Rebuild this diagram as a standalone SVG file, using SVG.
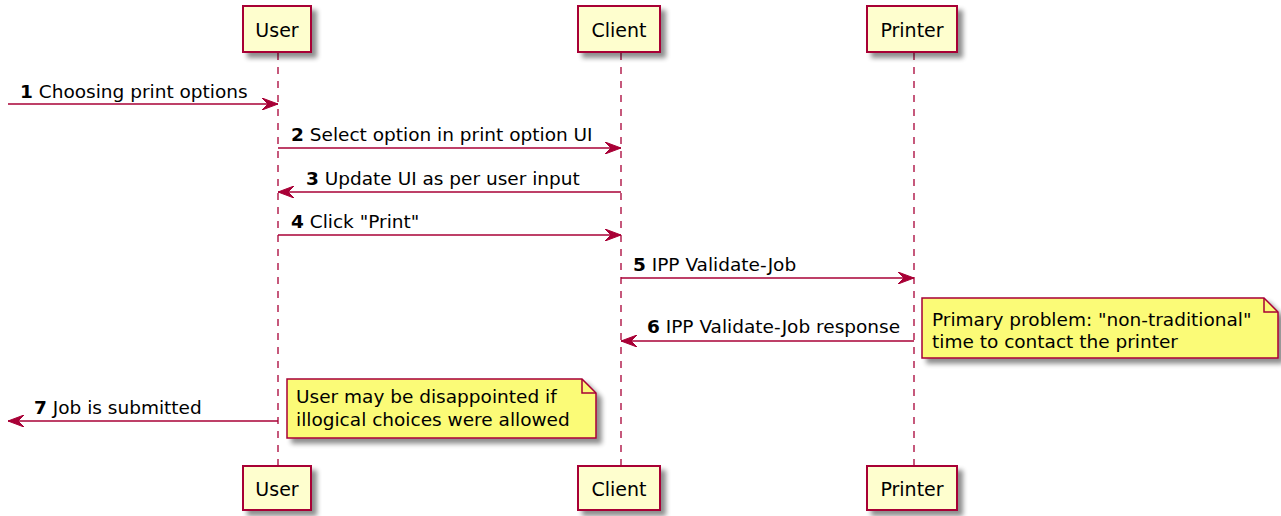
<svg xmlns="http://www.w3.org/2000/svg" width="1281" height="516" viewBox="0 0 1281 516">
<defs>
  <filter id="sh" x="-20%" y="-20%" width="150%" height="160%">
    <feGaussianBlur in="SourceAlpha" stdDeviation="2.5"/>
    <feOffset dx="5" dy="5" result="b"/>
    <feComponentTransfer><feFuncA type="linear" slope="0.45"/></feComponentTransfer>
    <feMerge><feMergeNode/><feMergeNode in="SourceGraphic"/></feMerge>
  </filter>
  <marker id="ah" viewBox="0 0 16 12" refX="16" refY="6" markerWidth="16" markerHeight="12" markerUnits="userSpaceOnUse" orient="auto">
    <path d="M0,0 L16,6 L0,12 L6,6 Z" fill="#A80036" stroke="#A80036" stroke-width="1"/>
  </marker>
</defs>
<style>
  .part { fill: #FEFECE; stroke: #A80036; stroke-width: 2; }
  .ptxt { font-family: "DejaVu Sans", sans-serif; font-size: 19px; fill: #000; text-anchor: middle; }
  .life { stroke: #A80036; stroke-width: 1.3; stroke-dasharray: 7 7; fill: none; }
  .msg { stroke: #A80036; stroke-width: 1.5; fill: none; marker-end: url(#ah); }
  .mtxt { font-family: "DejaVu Sans", sans-serif; font-size: 18.5px; fill: #000; }
  .num { font-weight: bold; }
  .note { fill: #FBFB77; stroke: #A80036; stroke-width: 1.5; }
  .ntxt { font-family: "DejaVu Sans", sans-serif; font-size: 18.5px; fill: #000; }
</style>
<g id="lifelines">
  <line class="life" x1="278" y1="53" x2="278" y2="466"/>
  <line class="life" x1="621" y1="53" x2="621" y2="466"/>
  <line class="life" x1="914" y1="53" x2="914" y2="466"/>
</g>
<g id="user">
  <rect class="part" x="243" y="6" width="68" height="46" filter="url(#sh)"/>
  <text class="ptxt" x="277" y="37">User</text>
  <rect class="part" x="243" y="466" width="68" height="44" filter="url(#sh)"/>
  <text class="ptxt" x="277" y="496">User</text>
</g>
<g id="client">
  <rect class="part" x="578" y="6" width="82" height="46" filter="url(#sh)"/>
  <text class="ptxt" x="619" y="37">Client</text>
  <rect class="part" x="578" y="466" width="82" height="44" filter="url(#sh)"/>
  <text class="ptxt" x="619" y="496">Client</text>
</g>
<g id="printer">
  <rect class="part" x="867" y="6" width="90" height="46" filter="url(#sh)"/>
  <text class="ptxt" x="912" y="37">Printer</text>
  <rect class="part" x="867" y="466" width="90" height="44" filter="url(#sh)"/>
  <text class="ptxt" x="912" y="496">Printer</text>
</g>
<g id="connectors">
  <line class="msg" x1="8" y1="104" x2="278" y2="104"/>
  <line class="msg" x1="278" y1="148" x2="621" y2="148"/>
  <line class="msg" x1="621" y1="192" x2="278" y2="192"/>
  <line class="msg" x1="278" y1="235" x2="621" y2="235"/>
  <line class="msg" x1="621" y1="278" x2="914" y2="278"/>
  <line class="msg" x1="914" y1="341" x2="621" y2="341"/>
  <line class="msg" x1="278" y1="421" x2="8" y2="421"/>
</g>
<g id="labels">
  <text class="mtxt" x="20" y="98"><tspan class="num">1</tspan> Choosing print options</text>
  <text class="mtxt" x="291" y="141"><tspan class="num">2</tspan> Select option in print option UI</text>
  <text class="mtxt" x="306" y="185"><tspan class="num">3</tspan> Update UI as per user input</text>
  <text class="mtxt" x="291" y="228"><tspan class="num">4</tspan> Click "Print"</text>
  <text class="mtxt" x="633" y="271"><tspan class="num">5</tspan> IPP Validate-Job</text>
  <text class="mtxt" x="647" y="333"><tspan class="num">6</tspan> IPP Validate-Job response</text>
  <text class="mtxt" x="34" y="414"><tspan class="num">7</tspan> Job is submitted</text>
</g>
<g id="note-printer">
  <path class="note" d="M922,298 L1264,298 L1278,312 L1278,358 L922,358 Z" filter="url(#sh)"/>
  <path d="M1264,298 L1264,312 L1278,312" fill="none" stroke="#A80036" stroke-width="1.5"/>
  <text class="ntxt" x="932" y="326">Primary problem: "non-traditional"</text>
  <text class="ntxt" x="932" y="348">time to contact the printer</text>
</g>
<g id="note-user">
  <path class="note" d="M287,379 L582,379 L596,393 L596,438 L287,438 Z" filter="url(#sh)"/>
  <path d="M582,379 L582,393 L596,393" fill="none" stroke="#A80036" stroke-width="1.5"/>
  <text class="ntxt" x="296" y="403">User may be disappointed if</text>
  <text class="ntxt" x="296" y="426">illogical choices were allowed</text>
</g>
</svg>
